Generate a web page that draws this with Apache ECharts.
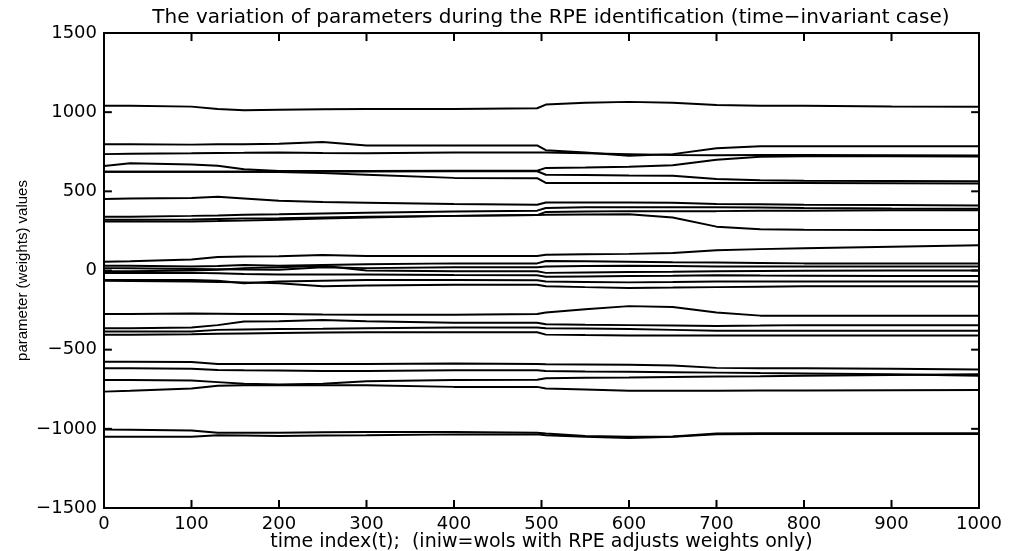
<!DOCTYPE html>
<html><head><meta charset="utf-8">
<script src="https://cdn.jsdelivr.net/npm/echarts@6/dist/echarts.min.js"></script>
<style>html,body{margin:0;padding:0;background:#fff}#c{width:1011px;height:551px}</style>
</head><body><div id="c"></div>
<script>
var xs = [0, 30, 100, 130, 160, 200, 250, 300, 400, 495, 505, 550, 600, 650, 700, 750, 800, 900, 1000];
var xTicks = [0,100,200,300,400,500,600,700,800,900,1000];
var yTicks = [-1500,-1000,-500,0,500,1000,1500];
var sA  = [1040,1040,1035,1020,1012,1015,1018,1020,1020,1025,1048,1060,1065,1060,1045,1040,1040,1036,1035];
var sB  = [797,797,795,797,798,800,812,790,790,790,760,745,725,735,772,785,785,785,785];
var sC  = [735,737,740,742,743,745,742,740,745,745,745,740,735,730,728,730,730,728,727];
var sD  = [660,677,670,662,640,628,628,628,630,630,648,650,655,665,700,718,722,722,720];
var sE  = [624,624,624,624,624,624,624,625,627,627,605,603,600,598,578,570,567,565,563];
var sF  = [624,624,624,624,623,622,615,605,585,583,553,552,552,552,552,552,552,551,550];
var sG  = [452,455,458,466,455,440,432,428,420,415,430,430,430,428,420,418,415,413,410];
var sI1 = [340,340,345,348,352,355,360,365,372,378,395,400,400,400,400,398,395,392,390];
var sI2 = [320,320,322,325,328,330,335,340,345,350,370,372,375,375,375,377,378,380,380];
var sH  = [310,310,310,312,315,320,328,335,345,350,352,354,355,335,277,260,258,256,256];
var sJ1 = [55,58,70,85,88,90,98,92,92,92,100,103,105,110,128,135,140,150,160];
var sJ2 = [30,30,25,28,35,30,35,40,45,45,60,58,55,52,50,48,45,45,45];
var sJ3 = [15,14,10,8,6,5,20,15,20,20,25,28,30,28,25,25,25,25,25];
var sJ4 = [-5,-4,0,5,15,20,30,0,-5,-5,-15,-12,-10,-8,-5,-3,-2,0,0];
var sJ5 = [-15,-15,-15,-18,-22,-25,-25,-25,-28,-30,-40,-38,-35,-33,-30,-32,-33,-35,-35];
var sJ6 = [-60,-60,-60,-65,-80,-70,-65,-60,-60,-62,-70,-72,-75,-73,-70,-70,-70,-70,-70];
var sJ7 = [-65,-66,-70,-72,-75,-80,-100,-95,-90,-90,-100,-105,-110,-108,-105,-102,-100,-100,-100];
var sK1 = [-275,-275,-272,-273,-274,-275,-278,-280,-280,-275,-265,-245,-225,-230,-265,-285,-285,-285,-285];
var sK2 = [-365,-365,-360,-345,-322,-320,-313,-320,-330,-330,-340,-343,-345,-347,-350,-348,-345,-345,-345];
var sK3 = [-385,-385,-385,-375,-372,-370,-368,-365,-360,-360,-365,-367,-370,-375,-380,-380,-380,-380,-380];
var sK4 = [-405,-405,-403,-400,-398,-395,-392,-390,-390,-390,-405,-408,-410,-410,-410,-410,-410,-410,-410];
var sL1 = [-576,-576,-578,-590,-590,-590,-590,-590,-588,-590,-592,-593,-595,-600,-615,-617,-618,-620,-625];
var sL2 = [-618,-618,-620,-628,-630,-632,-635,-635,-630,-630,-635,-638,-640,-642,-645,-648,-650,-655,-665];
var sM1 = [-692,-692,-695,-705,-715,-720,-715,-700,-692,-690,-680,-678,-676,-673,-670,-668,-665,-660,-655];
var sM2 = [-765,-760,-745,-728,-725,-725,-725,-725,-735,-735,-745,-752,-760,-760,-760,-758,-758,-756,-755];
var sN1 = [-1005,-1006,-1010,-1025,-1025,-1025,-1022,-1020,-1020,-1025,-1030,-1045,-1050,-1048,-1030,-1028,-1028,-1028,-1028];
var sN2 = [-1050,-1050,-1050,-1040,-1042,-1045,-1042,-1040,-1035,-1035,-1040,-1050,-1058,-1050,-1035,-1033,-1032,-1032,-1032];
var allSeries = [sA,sB,sC,sD,sE,sF,sG,sI1,sI2,sH,sJ1,sJ2,sJ3,sJ4,sJ5,sJ6,sJ7,sK1,sK2,sK3,sK4,sL1,sL2,sM1,sM2,sN1,sN2];

var chart = echarts.init(document.getElementById('c'), null, {renderer:'canvas'});
var font = 'DejaVu Sans';
var X_MIN = 0, X_MAX = 1000, Y_MIN = -1500, Y_MAX = 1500;
// tick length expressed in axis units (about 8 px each way)
var TICK_Y = (Y_MAX - Y_MIN) * 0.017, TICK_X = (X_MAX - X_MIN) * 0.009;
var series = allSeries.map(function(v){
  return {type:'line', showSymbol:false, symbol:'none',
    data: xs.map(function(x,i){return [x, v[i]];}),
    lineStyle:{color:'#000', width:2}, silent:true};
});
function tickSeries(pts){
  return {type:'line', showSymbol:false, symbol:'none', silent:true, clip:false, z:20,
    data: pts, lineStyle:{color:'#000', width:2}};
}
xTicks.forEach(function(v){
  series.push(tickSeries([[v, Y_MIN], [v, Y_MIN + TICK_Y]]));
  series.push(tickSeries([[v, Y_MAX], [v, Y_MAX - TICK_Y]]));
});
yTicks.forEach(function(v){
  series.push(tickSeries([[X_MIN, v], [X_MIN + TICK_X, v]]));
  series.push(tickSeries([[X_MAX, v], [X_MAX - TICK_X, v]]));
});
function axLine(){ return {show:true, onZero:false, lineStyle:{color:'#000', width:2}}; }
chart.setOption({
  animation:false,
  backgroundColor:'#fff',
  title:{text:'The variation of parameters during the RPE identification (time\u2212invariant case)',
    left:546, top:3, textAlign:'center',
    textStyle:{fontFamily:font, fontSize:20, fontWeight:'normal', color:'#000'}},
  grid:{left:104, right:32, top:33, bottom:43, outerBoundsMode:'none', containLabel:false},
  xAxis:[
    {type:'value', min:X_MIN, max:X_MAX, interval:100, position:'bottom',
     axisLine:axLine(), axisTick:{show:false}, splitLine:{show:false},
     axisLabel:{show:true, margin:7, color:'#000', fontFamily:font, fontSize:18,
       formatter:function(v){return xTicks.indexOf(v)>=0 ? String(v) : '';}},
     name:'time index(t);  (iniw=wols with RPE adjusts weights only)',
     nameLocation:'middle', nameGap:25, nameMoveOverlap:false,
     nameTextStyle:{fontFamily:font, fontSize:19, color:'#000'}},
    {type:'value', min:X_MIN, max:X_MAX, interval:100, position:'top',
     axisLine:axLine(), axisTick:{show:false}, splitLine:{show:false}, axisLabel:{show:false}}
  ],
  yAxis:[
    {type:'value', min:Y_MIN, max:Y_MAX, interval:500, position:'left',
     axisLine:axLine(), axisTick:{show:false}, splitLine:{show:false},
     axisLabel:{show:true, margin:7, color:'#000', fontFamily:font, fontSize:18,
       formatter:function(v){return yTicks.indexOf(v)>=0 ? String(v).replace('-', '\u2212') : '';}},
     name:'parameter (weights) values', nameLocation:'middle', nameGap:74, nameMoveOverlap:false,
     nameTextStyle:{fontFamily:'Liberation Sans', fontSize:15, color:'#000'}},
    {type:'value', min:Y_MIN, max:Y_MAX, interval:500, position:'right',
     axisLine:axLine(), axisTick:{show:false}, splitLine:{show:false}, axisLabel:{show:false}}
  ],
  series: series
});
</script></body></html>
